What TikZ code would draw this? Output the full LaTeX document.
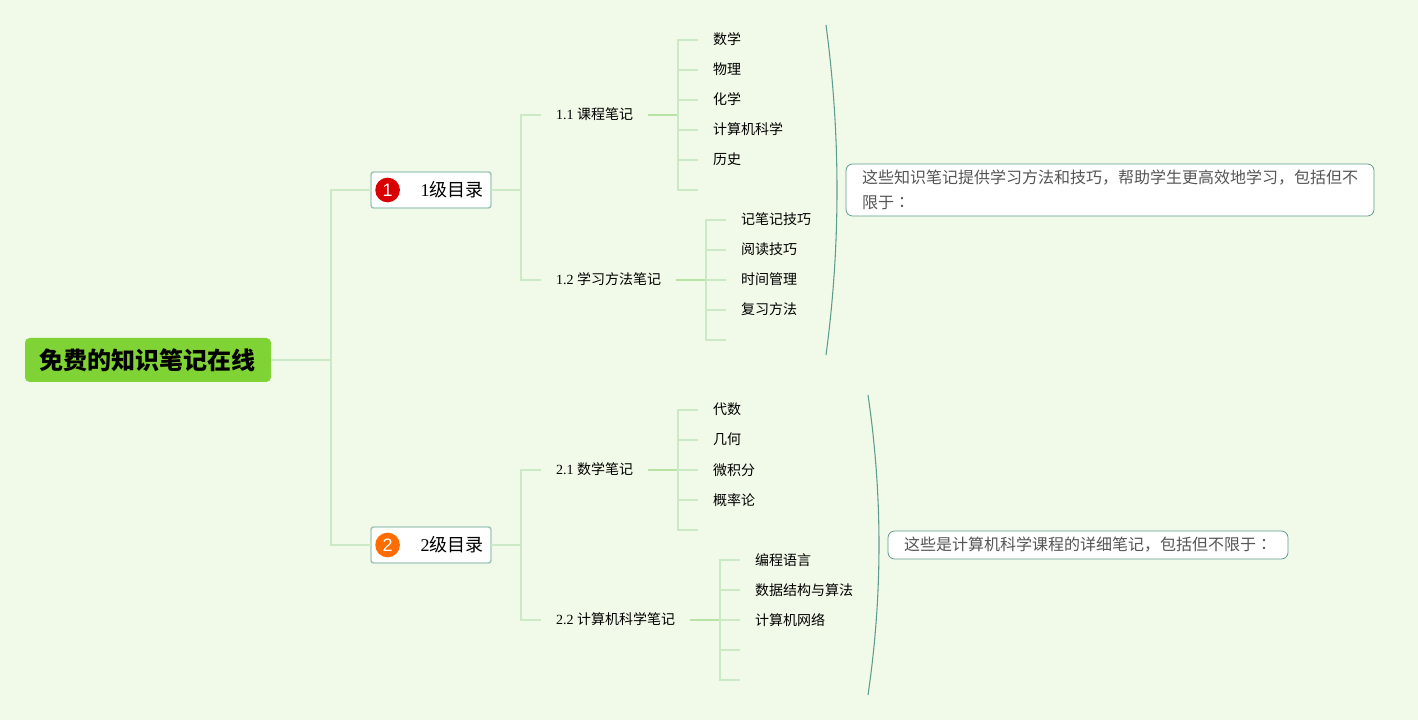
\documentclass[tikz,border=0pt]{standalone}
\usepackage{fontspec}
\usepackage{xcolor}
\setmainfont{Liberation Serif}
\newfontfamily\cjk{Noto Sans CJK SC}
\newfontfamily\cjktc{Noto Sans CJK TC}
\newfontfamily\badgefont{Liberation Sans}
\usetikzlibrary{positioning}

\definecolor{bgcol}{HTML}{F1F9E8}
\definecolor{rootcol}{HTML}{80D334}
\definecolor{linecol}{HTML}{CBE9C4}
\definecolor{stubcol}{HTML}{B9E3A4}
\definecolor{lvlborder}{HTML}{A0C8BA}
\definecolor{notecol}{HTML}{5F9C90}
\definecolor{notetext}{HTML}{555555}

\tikzset{
	rootbox/.style={rectangle, fill=rootcol, rounded corners=3.5pt, minimum width=184.5pt, minimum height=33pt, inner sep=0pt, outer sep=0pt, font=\cjk\fontsize{18}{20}\selectfont\bfseries},
	lvlbox/.style={rectangle, draw=lvlborder, line width=1.1pt, fill=white, rounded corners=2pt, minimum width=90pt, minimum height=27pt, inner xsep=0pt, inner ysep=0pt, outer sep=0pt, text width=78.75pt, align=right, font=\fontsize{13.5}{16}\selectfont},
	badge/.style={circle, minimum size=18.5pt, inner sep=0pt, text=white, font=\badgefont\fontsize{13.5}{16}\selectfont},
	subnode/.style={rectangle, inner xsep=11.25pt, inner ysep=0pt, outer sep=0pt, text height=8.5pt, text depth=1.5pt, font=\fontsize{10.5}{12}\selectfont},
	leafnode/.style={rectangle, inner xsep=11.25pt, inner ysep=0pt, outer sep=0pt, text height=8.5pt, text depth=1pt, font=\cjk\fontsize{10.5}{12}\selectfont},
	notebox/.style={rectangle, draw=notecol, line width=.6pt, fill=white, rounded corners=5pt, inner xsep=12pt, inner ysep=0pt, outer sep=0pt, align=left, text=notetext, font=\cjk\fontsize{12}{18.75}\selectfont},
	conn/.style={draw=linecol, line width=1.1pt},
	stub/.style={draw=stubcol, line width=1.5pt},
	bracket/.style={draw=notecol, line width=.8pt}
}

\begin{document}
\begin{tikzpicture}
	\fill[bgcol] (0,0) rectangle (1063.5pt,-540pt);
	\useasboundingbox (0,0) rectangle (1063.5pt,-540pt);

	\node[rootbox, anchor=west] (root) at (18.75pt,-270pt) {免费的知识笔记在线};
	\coordinate[right=45pt of root] (jroot);

	\node[lvlbox, right=75pt of root, yshift=127.5pt] (lvl1) {1{\cjk 级目录}};
	\node[lvlbox, right=75pt of root, yshift=-138.75pt] (lvl2) {2{\cjk 级目录}};
	\node[badge, fill=red!85!black, right=-87pt of lvl1] (badge1) {1};
	\node[badge, fill=orange!85!red, right=-87pt of lvl2] (badge2) {2};
	\coordinate[right=22.5pt of lvl1] (jlvl1);
	\coordinate[right=22.5pt of lvl2] (jlvl2);

	% second level
	\node[subnode, right=37.5pt of lvl1, yshift=56.25pt] (sub11) {1.1 {\cjk 课程笔记}};
	\node[subnode, right=37.5pt of lvl1, yshift=-67.5pt] (sub12) {1.2 {\cjk 学习方法笔记}};
	\node[subnode, right=37.5pt of lvl2, yshift=56.25pt] (sub21) {2.1 {\cjk 数学笔记}};
	\node[subnode, right=37.5pt of lvl2, yshift=-56.25pt] (sub22) {2.2 {\cjk 计算机科学笔记}};
	\coordinate[right=22.5pt of sub11] (j11);
	\coordinate[right=22.5pt of sub12] (j12);
	\coordinate[right=22.5pt of sub21] (j21);
	\coordinate[right=22.5pt of sub22] (j22);

	% leaves
	\node[leafnode, right=37.5pt of sub11, yshift=56.25pt] (math) {数学};
	\node[leafnode, right=37.5pt of sub11, yshift=33.75pt] (phys) {物理};
	\node[leafnode, right=37.5pt of sub11, yshift=11.25pt] (chem) {化学};
	\node[leafnode, right=37.5pt of sub11, yshift=-11.25pt] (cs) {计算机科学};
	\node[leafnode, right=37.5pt of sub11, yshift=-33.75pt] (hist) {历史};
	\coordinate[right=37.5pt of sub11, yshift=-56.25pt] (empty11);

	\node[leafnode, right=37.5pt of sub12, yshift=45pt] (notes) {记笔记技巧};
	\node[leafnode, right=37.5pt of sub12, yshift=22.5pt] (reading) {阅读技巧};
	\node[leafnode, right=37.5pt of sub12] (timem) {时间管理};
	\node[leafnode, right=37.5pt of sub12, yshift=-22.5pt] (review) {复习方法};
	\coordinate[right=37.5pt of sub12, yshift=-45pt] (empty12);

	\node[leafnode, right=37.5pt of sub21, yshift=45pt] (algebra) {代数};
	\node[leafnode, right=37.5pt of sub21, yshift=22.5pt] (geom) {几何};
	\node[leafnode, right=37.5pt of sub21] (calc) {微积分};
	\node[leafnode, right=37.5pt of sub21, yshift=-22.5pt] (prob) {概率论};
	\coordinate[right=37.5pt of sub21, yshift=-45pt] (empty21);

	\node[leafnode, right=37.5pt of sub22, yshift=45pt] (lang) {编程语言};
	\node[leafnode, right=37.5pt of sub22, yshift=22.5pt] (algo) {数据结构与算法};
	\node[leafnode, right=37.5pt of sub22] (net) {计算机网络};
	\coordinate[right=37.5pt of sub22, yshift=-22.5pt] (empty22a);
	\coordinate[right=37.5pt of sub22, yshift=-45pt] (empty22b);

	% notes and brackets
	\node[notebox, right=266.25pt of lvl1, minimum height=39pt, text width=372pt] (note1) {这些知识笔记提供学习方法和技巧，帮助学生更高效地学习，包括但不\\限于{\cjktc ：}};
	\node[notebox, right=297.75pt of lvl2, minimum height=21pt] (note2) {这些是计算机科学课程的详细笔记，包括但不限于{\cjktc ：}};
	\coordinate[right=251.25pt of lvl1, yshift=123.75pt] (br1top);
	\coordinate[right=251.25pt of lvl1, yshift=-123.75pt] (br1bot);
	\coordinate[right=282.75pt of lvl2, yshift=112.5pt] (br2top);
	\coordinate[right=282.75pt of lvl2, yshift=-112.5pt] (br2bot);

	% connectors
	\draw[conn] (root) -- (jroot);
	\foreach \n in {lvl1,lvl2}
		\draw[conn] (jroot) |- (\n.west);
	\draw[conn] (lvl1) -- (jlvl1);
	\draw[conn] (lvl2) -- (jlvl2);
	\foreach \n in {sub11,sub12}
		\draw[conn] (jlvl1) |- (\n.west);
	\foreach \n in {sub21,sub22}
		\draw[conn] (jlvl2) |- (\n.west);

	\draw[stub] (sub11) -- (j11);
	\draw[stub] (sub12) -- (j12);
	\draw[stub] (sub21) -- (j21);
	\draw[stub] (sub22) -- (j22);
	\foreach \n in {math,phys,chem,cs,hist,empty11}
		\draw[conn] (j11) |- (\n.west);
	\foreach \n in {notes,reading,timem,review,empty12}
		\draw[conn] (j12) |- (\n.west);
	\foreach \n in {algebra,geom,calc,prob,empty21}
		\draw[conn] (j21) |- (\n.west);
	\foreach \n in {lang,algo,net,empty22a,empty22b}
		\draw[conn] (j22) |- (\n.west);

	\draw[bracket] (br1top) .. controls +(11pt,-82pt) and +(11pt,82pt) .. (br1bot);
	\draw[bracket] (br2top) .. controls +(11pt,-75pt) and +(11pt,75pt) .. (br2bot);
\end{tikzpicture}
\end{document}
